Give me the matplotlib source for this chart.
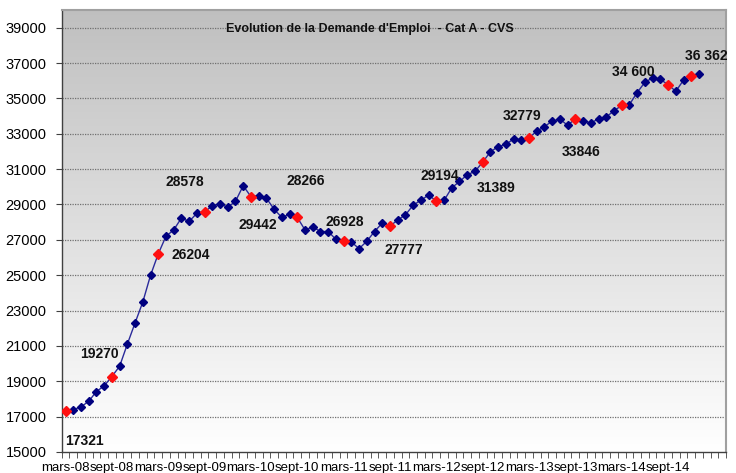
import numpy as np
import matplotlib
matplotlib.use("Agg")
import matplotlib.pyplot as plt
from matplotlib.ticker import FixedLocator

plt.rcParams['font.family'] = ['Liberation Sans', 'DejaVu Sans']

title = "Evolution de la Demande d'Emploi  - Cat A - CVS"

# Monthly values, mars-08 .. janv-15
values = [
    17321, 17400, 17550, 17870, 18420, 18740, 19270, 19850, 21100, 22300,
    23480, 24990, 26204, 27200, 27560, 28230, 28040, 28500, 28578, 28930,
    29040, 28840, 29180, 30060, 29442, 29490, 29360, 28730, 28270, 28450,
    28266, 27560, 27730, 27470, 27470, 27030, 26928, 26880, 26500, 26920,
    27470, 27950, 27777, 28120, 28410, 28960, 29240, 29530, 29194, 29230,
    29940, 30300, 30680, 30870, 31389, 31980, 32270, 32400, 32700, 32660,
    32779, 33140, 33400, 33720, 33820, 33480, 33846, 33740, 33610, 33840,
    33950, 34300, 34600, 34650, 35330, 35910, 36160, 36070, 35780, 35400,
    36030, 36280, 36362,
]
red_idx = [0, 6, 12, 18, 24, 30, 36, 42, 48, 54, 60, 66, 72, 78, 81]

tick_labels = ["mars-08", "sept-08", "mars-09", "sept-09", "mars-10", "sept-10",
               "mars-11", "sept-11", "mars-12", "sept-12", "mars-13", "sept-13",
               "mars-14", "sept-14"]

# annotations: (index, text, dx in months, dy in value units)
ann_text = ["17321", "19270", "26204", "28578", "29442", "28266", "26928",
            "27777", "29194", "31389", "32779", "33846", "34 600", "36 362"]
ann_idx = [0, 6, 12, 18, 24, 30, 36, 42, 48, 54, 60, 66, 72, 82]
ann_dx = [2.4, -1.56, 4.23, -2.55, 0.9, 1.1, 0.2, 1.8, 0.4, 1.7, -0.9, 0.8, 1.5, 0.9]
ann_dy = [-1700, 1273, -62, 1693, -1603, 2062, 1081, -1352, 1417, -1457, 1226, -1878, 1893, 1036]

fig = plt.figure(figsize=(7.36, 4.73), dpi=100)
ax = fig.add_axes([0.0838, 0.0444, 0.9026, 0.9345])

n_cat = 86
ax.set_xlim(-0.5, n_cat - 0.5)
ax.set_ylim(15000, 40000)

# gradient background
grad = np.linspace(0, 1, 256).reshape(-1, 1)
top = np.array([0.75, 0.75, 0.75])
bot = np.array([1.0, 1.0, 1.0])
img = (top + (bot - top) * grad).reshape(256, 1, 3)
ax.imshow(img, extent=(0, 1, 0, 1), transform=ax.transAxes, aspect='auto',
          zorder=0, interpolation='bilinear')

# grid lines
for yv in range(17000, 40000, 2000):
    ax.axhline(yv, color='#707070', lw=0.9, ls=(0, (1, 1)), zorder=1)

x = np.arange(len(values))
ax.plot(x, values, color='#2a2a9a', lw=1.0, zorder=3)
ax.plot(x, values, ls='none', marker='D', ms=4.2, color='#00007f', zorder=4)
rx = [x[i] for i in red_idx]
ry = [values[i] for i in red_idx]
ax.plot(rx, ry, ls='none', marker='D', ms=5, color='#ff1010', zorder=5)

for i, t, dx, dy in zip(ann_idx, ann_text, ann_dx, ann_dy):
    ax.text(x[i] + dx, values[i] + dy, t, ha='center', va='center',
            fontsize=10, fontweight='bold', color='#111111', zorder=6)

ax.text(0.464, 0.9575, title, transform=ax.transAxes, ha='center', va='center',
        fontsize=9, fontweight='bold', color='#111111', zorder=6)

# axes styling
ax.yaxis.set_major_locator(FixedLocator(list(range(15000, 40000, 2000))))
ax.tick_params(axis='y', labelsize=10.5, length=4, direction='out', color='#404040', pad=7)
ax.xaxis.set_major_locator(FixedLocator(list(range(0, 84, 6))))
ax.set_xticklabels(tick_labels)
ax.tick_params(axis='x', which='major', length=0, labelsize=9.5, pad=7)
ax.xaxis.set_minor_locator(FixedLocator(list(np.arange(-0.5, n_cat, 1.0))))
ax.tick_params(axis='x', which='minor', length=4, direction='out', color='#404040')

for s in ['left', 'bottom']:
    ax.spines[s].set_color('#404040')
    ax.spines[s].set_linewidth(1.0)
for s in ['top', 'right']:
    ax.spines[s].set_color('#a0a0a0')
    ax.spines[s].set_linewidth(1.5)

fig.savefig("out.png", dpi=100)
